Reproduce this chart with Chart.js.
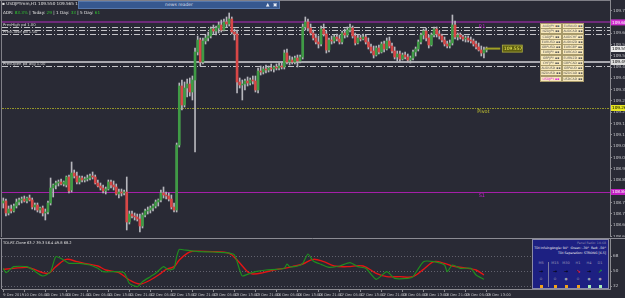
<!DOCTYPE html>
<html>
<head>
<meta charset="utf-8">
<title>USDJPYmm,H1</title>
<script src="https://cdn.jsdelivr.net/npm/chart.js@4.4.1/dist/chart.umd.min.js"></script>
<style>
  html, body { margin: 0; padding: 0; background: #292a35; }
  #wrap { position: relative; width: 625px; height: 298px; overflow: hidden; background: #292a35; font-family: "DejaVu Sans", sans-serif; }
  canvas { position: absolute; left: 0; }
  #main { top: 0; }
  #ind { top: 237px; }
  .txt { position: absolute; white-space: nowrap; font-size: 4.2px; line-height: 6px; color: #e2e2e2; }
  .g { color: #2fc42f; }
  #news { position: absolute; left: 78px; top: 1px; width: 200px; height: 6px; background: #36588f; border: 1px solid #5677aa; color: #d6dbe6; font-size: 4.5px; line-height: 6px; text-align: center; }
  #news .ic { position: absolute; top: 0; font-size: 4.5px; line-height: 6px; color: #e8ecf4; }
  .sym { position: absolute; width: 20px; height: 4px; background: #f7e8bb; border: 1px solid #a89a6a; font-size: 3.2px; line-height: 4px; color: #5a5a5a; text-align: center; overflow: hidden; white-space: nowrap; }
  #tdiPanel { position: absolute; left: 532px; top: 239px; width: 77px; height: 50px; background: #1d2082; border: 1px solid #8a8aa8; box-sizing: border-box; overflow: hidden; }
  #tdiPanel .tp { position: absolute; right: 2px; white-space: nowrap; font-size: 3.2px; line-height: 5px; color: #f0f0f0; }
  #tdiPanel .c { position: absolute; width: 10px; margin-left: -5px; text-align: center; font-size: 3.5px; line-height: 5px; white-space: nowrap; }
  #tdiPanel .sq { position: absolute; width: 3px; height: 3px; margin-left: -1.5px; }
</style>
</head>
<body>
<div id="wrap">
  <canvas id="main" width="625" height="237"></canvas>
  <canvas id="ind" width="625" height="61"></canvas>

  <div class="txt" style="left:2px;top:1px;">&#9642; USDJPYmm,H1 109.550 109.565 109.540 109.555</div>
  <div id="news">news reader<span class="ic" style="left:187px;">&#9650;</span><span class="ic" style="left:194px;">&#9635;</span></div>
  <div class="txt" style="left:3px;top:10px;">ADR: <span class="g">83.3%</span> | Today: <span class="g">29</span> | 1 Day: <span class="g">33</span> | 5 Day: <span class="g">61</span></div>
  <div class="txt" style="left:3px;top:240px;font-size:3.6px;">TDI-RT-Clone 63.7 39.3 56.4 49.8 68.2</div>

  <div id="tdiPanel"></div>
</div>

<script>
// ---------- données ----------
const timeLabels = ['9 Dec 2019', '10 Dec 05:00', '10 Dec 13:00', '10 Dec 21:00', '11 Dec 05:00', '11 Dec 13:00',
  '11 Dec 21:00', '12 Dec 05:00', '12 Dec 13:00', '12 Dec 21:00', '13 Dec 05:00', '13 Dec 13:00',
  '13 Dec 21:00', '16 Dec 05:00', '16 Dec 13:00', '16 Dec 21:00', '17 Dec 05:00', '17 Dec 13:00',
  '17 Dec 21:00', '18 Dec 05:00', '18 Dec 13:00', '18 Dec 21:00', '19 Dec 05:00', '19 Dec 13:00'];
const labelStep = 8;

const priceTicks = [109.747, 109.690, 109.634, 109.577, 109.521, 109.464, 109.408, 109.351, 109.295, 109.238,
  109.182, 109.125, 109.069, 109.012, 108.956, 108.899, 108.843, 108.786, 108.730, 108.673, 108.617];

const openP = [
  108.785,108.795,108.735,108.755,108.745,108.770,108.790,108.800,108.805,108.795,
  108.810,108.800,108.765,108.775,108.750,108.760,108.735,108.740,108.785,108.860,
  108.875,108.885,108.890,108.880,108.875,108.915,108.850,108.935,108.920,108.890,
  108.910,108.900,108.905,108.910,108.920,108.915,108.885,108.870,108.860,108.845,
  108.855,108.890,108.875,108.865,108.830,108.840,108.835,108.840,108.690,108.730,
  108.720,108.715,108.705,108.670,108.725,108.745,108.750,108.760,108.770,108.790,
  108.800,108.835,108.825,108.820,108.805,108.765,108.750,109.075,109.370,109.275,
  109.360,109.380,109.340,109.400,109.540,109.600,109.490,109.595,109.610,109.620,
  109.655,109.645,109.660,109.675,109.650,109.690,109.680,109.705,109.640,109.630,
  109.390,109.375,109.380,109.395,109.385,109.400,109.395,109.350,109.445,109.440,
  109.455,109.450,109.460,109.455,109.465,109.460,109.470,109.465,109.535,109.490,
  109.500,109.490,109.510,109.495,109.515,109.665,109.690,109.660,109.635,109.610,
  109.590,109.580,109.655,109.630,109.550,109.600,109.595,109.615,109.605,109.590,
  109.635,109.625,109.650,109.660,109.620,109.585,109.610,109.605,109.615,109.590,
  109.565,109.545,109.525,109.560,109.540,109.580,109.555,109.595,109.570,109.545,
  109.515,109.530,109.505,109.525,109.515,109.500,109.510,109.540,109.555,109.590,
  109.625,109.645,109.610,109.575,109.625,109.655,109.630,109.620,109.600,109.580,
  109.570,109.585,109.675,109.615,109.625,109.615,109.605,109.610,109.600,109.595,
  109.580,109.565,109.550,109.535,109.550];
const highP = [
  108.810,108.805,108.770,108.775,108.780,108.805,108.810,108.815,108.820,108.815,
  108.825,108.810,108.785,108.785,108.765,108.770,108.755,108.795,108.910,108.880,
  108.895,108.900,108.905,108.895,108.920,108.925,108.990,108.950,108.940,108.920,
  108.920,108.915,108.925,108.930,108.940,108.925,108.900,108.885,108.875,108.865,
  108.900,108.900,108.895,108.880,108.855,108.855,108.850,108.915,108.745,108.745,
  108.735,108.730,108.730,108.735,108.755,108.765,108.770,108.780,108.800,108.805,
  108.850,108.865,108.840,108.835,108.825,108.785,109.085,109.385,109.400,109.390,
  109.405,109.410,109.420,109.560,109.620,109.610,109.610,109.625,109.640,109.665,
  109.675,109.670,109.690,109.700,109.705,109.715,109.735,109.715,109.655,109.650,
  109.410,109.400,109.405,109.415,109.410,109.420,109.420,109.460,109.470,109.465,
  109.475,109.470,109.480,109.470,109.480,109.485,109.490,109.550,109.555,109.520,
  109.515,109.520,109.525,109.525,109.680,109.715,109.705,109.680,109.650,109.630,
  109.620,109.670,109.680,109.645,109.610,109.620,109.625,109.630,109.625,109.645,
  109.655,109.665,109.680,109.670,109.635,109.625,109.625,109.630,109.625,109.610,
  109.580,109.570,109.570,109.575,109.590,109.595,109.610,109.615,109.585,109.565,
  109.545,109.545,109.535,109.540,109.530,109.520,109.550,109.565,109.600,109.635,
  109.655,109.660,109.625,109.635,109.665,109.665,109.645,109.630,109.615,109.595,
  109.600,109.725,109.695,109.635,109.635,109.625,109.620,109.620,109.615,109.605,
  109.595,109.585,109.570,109.565,109.565];
const lowP = [
  108.760,108.720,108.725,108.735,108.740,108.760,108.775,108.785,108.790,108.785,
  108.795,108.755,108.750,108.740,108.735,108.720,108.700,108.730,108.775,108.815,
  108.855,108.870,108.875,108.870,108.865,108.835,108.840,108.910,108.880,108.880,
  108.890,108.890,108.895,108.900,108.905,108.880,108.865,108.850,108.835,108.830,
  108.850,108.860,108.850,108.825,108.810,108.820,108.825,108.650,108.680,108.710,
  108.700,108.695,108.640,108.660,108.715,108.730,108.735,108.745,108.760,108.770,
  108.790,108.810,108.805,108.795,108.755,108.740,108.740,109.065,109.250,109.265,
  109.315,109.320,109.300,109.040,109.525,109.470,109.480,109.580,109.595,109.610,
  109.630,109.625,109.635,109.640,109.645,109.665,109.670,109.630,109.600,109.335,
  109.360,109.300,109.350,109.370,109.375,109.380,109.340,109.335,109.425,109.430,
  109.435,109.440,109.445,109.440,109.450,109.450,109.455,109.455,109.480,109.475,
  109.480,109.480,109.465,109.485,109.505,109.650,109.645,109.625,109.600,109.580,
  109.560,109.570,109.620,109.535,109.540,109.580,109.585,109.595,109.580,109.580,
  109.610,109.615,109.640,109.610,109.575,109.580,109.595,109.600,109.580,109.555,
  109.535,109.510,109.520,109.530,109.535,109.540,109.550,109.560,109.535,109.505,
  109.495,109.490,109.500,109.505,109.490,109.485,109.500,109.520,109.545,109.580,
  109.605,109.595,109.560,109.570,109.615,109.615,109.605,109.590,109.570,109.560,
  109.560,109.575,109.605,109.600,109.605,109.595,109.590,109.590,109.585,109.570,
  109.555,109.545,109.520,109.510,109.540];
const closeP = [
  108.795,108.735,108.755,108.745,108.770,108.790,108.800,108.805,108.795,108.810,
  108.800,108.765,108.775,108.750,108.760,108.735,108.740,108.785,108.860,108.875,
  108.885,108.890,108.880,108.890,108.915,108.845,108.935,108.920,108.890,108.910,
  108.900,108.905,108.910,108.920,108.915,108.885,108.870,108.860,108.845,108.855,
  108.890,108.875,108.865,108.830,108.840,108.835,108.840,108.690,108.730,108.720,
  108.715,108.705,108.670,108.725,108.745,108.750,108.760,108.770,108.790,108.800,
  108.835,108.825,108.820,108.805,108.765,108.750,109.075,109.370,109.275,109.360,
  109.380,109.340,109.400,109.540,109.600,109.490,109.595,109.610,109.620,109.655,
  109.645,109.660,109.675,109.650,109.690,109.680,109.705,109.640,109.630,109.390,
  109.375,109.380,109.395,109.385,109.400,109.395,109.350,109.445,109.440,109.455,
  109.450,109.460,109.455,109.465,109.460,109.470,109.465,109.535,109.490,109.500,
  109.490,109.510,109.495,109.515,109.665,109.690,109.660,109.635,109.610,109.590,
  109.580,109.655,109.630,109.550,109.600,109.595,109.615,109.605,109.590,109.635,
  109.625,109.650,109.660,109.620,109.585,109.610,109.605,109.615,109.590,109.565,
  109.545,109.525,109.560,109.540,109.580,109.555,109.595,109.570,109.545,109.515,
  109.530,109.505,109.525,109.515,109.500,109.510,109.540,109.555,109.590,109.625,
  109.645,109.610,109.575,109.625,109.655,109.630,109.620,109.600,109.580,109.570,
  109.585,109.675,109.615,109.625,109.615,109.605,109.610,109.600,109.595,109.580,
  109.565,109.550,109.535,109.550,109.555];

// TDI (ligne verte = prix, ligne rouge = signal)
const tdiGreenIdx = [0,1,4,9,11,15,18,20,23,25,29,33,36,38,42,46,48,51,53,56,58,61,63,65,66,67,69,71,75,80,
  85,88,90,91,94,96,100,104,107,108,109,112,114,116,118,121,124,128,132,135,138,142,146,149,154,156,160,164,168,169,
  171,174,178,180,183];
const tdiGreen = [53.2,48.0,55.2,55.2,52.0,44.0,49.2,67.2,63.2,59.2,59.2,57.2,53.2,49.2,49.2,48.0,35.2,31.2,37.2,43.2,
  47.2,55.2,51.2,53.2,67.2,76.0,75.2,74.4,73.2,72.8,72.0,69.2,51.2,44.0,47.2,49.2,51.2,52.0,53.2,58.4,
  55.2,56.0,59.2,70.4,62.0,58.0,54.4,56.0,60.0,55.2,53.2,40.0,49.2,41.2,41.2,43.2,61.2,61.2,57.2,49.2,
  57.2,53.2,53.2,45.2,40.0];
const tdiRedIdx = [0,4,9,11,17,20,24,28,32,36,39,44,48,52,56,60,62,65,67,70,72,80,86,89,93,95,99,103,107,110,
  114,118,122,126,131,137,142,146,151,156,160,164,168,171,177,180,183];
const tdiRed = [52.0,53.2,54.4,52.8,47.2,55.2,64.0,61.2,58.4,56.0,51.2,48.0,39.2,34.4,39.2,47.2,52.0,55.2,63.2,71.2,
  73.6,73.2,71.2,63.2,49.2,46.4,48.0,51.2,53.2,55.2,58.4,64.0,61.2,56.0,55.2,56.0,47.2,43.2,43.2,43.2,
  52.0,61.2,59.2,56.0,53.2,51.2,45.2];
const tdiLevels = [32, 50, 68];

// niveaux horizontaux
const levelR1 = 109.688;
const levelPivot = 109.260;
const levelS1 = 108.840;
const dashLevels = [109.665, 109.652, 109.630, 109.470];
const dashNames = ['PrevHigh pd 1.00', '', 'PrevClose pd 1.00', 'PrevOpen pd avg 1.00'];
const greyLevel = 109.490;
const markLevel = 109.557;

const symLeft = ['AUDJPY', 'NZDJPY', 'CADJPY', 'EURUSD', 'GBPUSD', 'EURJPY', 'GBPJPY', 'CHFJPY', 'AUDUSD', 'NZDUSD', 'USDJPY'];
const symRight = ['EURAUD', 'AUDCAD', 'AUDCHF', 'AUDNZD', 'EURGBP', 'EURCAD', 'EURNZD', 'GBPCAD', 'GBPAUD', 'NZDCAD', 'USDCAD'];

const tfNames = ['M5', 'M15', 'M30', 'H1', 'H4', 'D1'];
const tfArrows = ['\u2192', '\u2192', '\u2192', '\u2198', '\u2192', '\u2197'];
const tfArrowColors = ['#000', '#000', '#000', '#e01818', '#000', '#1fa01f'];
const tfDots = ['\u2299', '\u2299', '\u25CF', '\u2299', '\u25CF', '\u25CF'];
const tfBoxColors = ['#f0a018', '#f0a018', '#f0a018', '#f0a018', '#a6efb4', '#a6efb4'];

Chart.defaults.font.family = '"DejaVu Sans", sans-serif';

// ---------- panneau des symboles ----------
symLeft.forEach((s, r) => {
    [[s, 540], [symRight[r], 562]].forEach(([name, left]) => {
        const d = document.createElement('div');
        d.className = 'sym';
        d.style.left = left + 'px';
        d.style.top = (23 + r * 5.27).toFixed(1) + 'px';
        d.textContent = name + ' \u25AA\u25AA';
        if (name === 'USDJPY') d.style.color = '#e020e0';
        document.getElementById('wrap').appendChild(d);
    });
});

// ---------- panneau TDI ----------
const panel = document.getElementById('tdiPanel');
panel.innerHTML =
    '<div class="tp" style="top:1px;color:#8c8cae">Panel Ratio: 10.68</div>' +
    '<div class="tp" style="top:6px">TDI InfuingAngle: 94\u00B0 &nbsp;Green: -30\u00B0 &nbsp;Red: -50\u00B0</div>' +
    '<div class="tp" style="top:11px">TDI Separation: STRONG [6.5]</div>' +
    '<div style="position:absolute;left:15px;top:22px;width:1px;height:25px;background:#7a7aa0"></div>';
const colX = [8, 22, 33, 45, 56, 67];
tfNames.forEach((n, k) => {
    panel.innerHTML +=
        '<div class="c" style="left:' + colX[k] + 'px;top:21px;color:#9a9ab8">' + n + '</div>' +
        '<div class="c" style="left:' + colX[k] + 'px;top:29px;font-weight:bold;font-size:5px;color:' + tfArrowColors[k] + '">' + tfArrows[k] + '</div>' +
        '<div class="c" style="left:' + colX[k] + 'px;top:37px;color:#9a9aaa">' + tfDots[k] + '</div>' +
        '<div class="sq" style="left:' + colX[k] + 'px;top:45px;background:' + tfBoxColors[k] + '"></div>';
});

// ---------- graphique principal (chandeliers) ----------
const idx = openP.map((_, i) => i);
const bodyData = idx.map(i => ({ x: i, y: [openP[i], closeP[i]] }));
const wickData = idx.map(i => ({ x: i, y: [lowP[i], highP[i]] }));
const bodyColors = idx.map(i => closeP[i] >= openP[i] ? '#3f9b45' : '#d84747');

const mainDecor = {
    id: 'mainDecor',
    beforeDatasetsDraw(chart) {
        const { ctx, chartArea: a, scales: { y } } = chart;
        const hline = (price, color, w, dash) => {
            const py = Math.round(y.getPixelForValue(price)) + (w % 2 ? 0.5 : 0);
            ctx.beginPath();
            ctx.strokeStyle = color;
            ctx.lineWidth = w;
            ctx.setLineDash(dash || []);
            ctx.moveTo(a.left, py);
            ctx.lineTo(a.right, py);
            ctx.stroke();
        };
        ctx.save();
        hline(levelR1, '#6e2a7a', 2);
        dashLevels.forEach(p => hline(p, '#c4c4c8', 1, [6, 2, 1, 2]));
        hline(greyLevel, '#a9a9b0', 2);
        hline(levelPivot, '#94942a', 1, [2, 1, 1, 1]);
        hline(levelS1, '#a41fa8', 1);
        ctx.restore();
    },
    afterDatasetsDraw(chart) {
        const { ctx, scales: { x, y } } = chart;
        ctx.save();
        ctx.font = '5px "DejaVu Sans"';
        ctx.textBaseline = 'top';
        ctx.fillStyle = '#c020c8';
        ctx.fillText('R1', x.getPixelForValue(181), y.getPixelForValue(levelR1) + 1.5);
        ctx.fillText('S1', x.getPixelForValue(181), y.getPixelForValue(levelS1) + 1);
        ctx.fillStyle = '#c8c830';
        ctx.fillText('Pivot', x.getPixelForValue(180.5), y.getPixelForValue(levelPivot) + 1);
        // étiquettes à gauche des lignes pointillées
        ctx.font = '3.8px "DejaVu Sans"';
        ctx.textBaseline = 'bottom';
        ctx.fillStyle = '#d8d8d8';
        dashLevels.forEach((p, k) => {
            if (dashNames[k]) ctx.fillText(dashNames[k], 3, y.getPixelForValue(p) - 0.5);
        });
        // marque jaune du prix courant
        const my = y.getPixelForValue(markLevel);
        ctx.strokeStyle = '#a0a024';
        ctx.lineWidth = 2;
        ctx.beginPath();
        ctx.moveTo(x.getPixelForValue(183.5), my);
        ctx.lineTo(x.getPixelForValue(189.2), my);
        ctx.stroke();
        const bx = x.getPixelForValue(190), bw = x.getPixelForValue(197.6) - bx;
        ctx.fillStyle = '#5f5f10';
        ctx.fillRect(bx, my - 3.5, bw, 7);
        ctx.strokeStyle = '#b0b040';
        ctx.lineWidth = 0.8;
        ctx.strokeRect(bx, my - 3.5, bw, 7);
        ctx.fillStyle = '#f2f25a';
        ctx.font = '4.5px "DejaVu Sans"';
        ctx.textBaseline = 'middle';
        ctx.fillText(markLevel.toFixed(3), bx + 1.5, my + 0.3);
        ctx.restore();
    },
    afterDraw(chart) {
        const { ctx, chartArea: a, scales: { y } } = chart;
        ctx.save();
        // cadre
        ctx.strokeStyle = '#808088';
        ctx.lineWidth = 1;
        ctx.beginPath();
        ctx.moveTo(1.5, 0); ctx.lineTo(1.5, a.bottom);
        ctx.moveTo(0, 0.5); ctx.lineTo(a.right, 0.5);
        ctx.stroke();
        // étiquettes de prix sur l'axe
        const tag = (price, bg, fg) => {
            const py = y.getPixelForValue(price);
            ctx.fillStyle = bg;
            ctx.fillRect(a.right + 1, py - 3, 15, 6);
            ctx.fillStyle = fg;
            ctx.font = '4.2px "DejaVu Sans"';
            ctx.textBaseline = 'middle';
            ctx.fillText(price.toFixed(3), a.right + 2, py + 0.3);
        };
        tag(levelR1, '#cf2fcf', '#ffffff');
        tag(closeP[closeP.length - 1], '#ececec', '#000000');
        tag(greyLevel, '#dcdcdc', '#000000');
        tag(levelPivot, '#e6e620', '#000000');
        tag(levelS1, '#c21fc2', '#ffffff');
        ctx.restore();
    }
};

new Chart(document.getElementById('main').getContext('2d'), {
    type: 'bar',
    data: {
        datasets: [
            { data: wickData, backgroundColor: '#b6b6bc', barThickness: 1, grouped: false, order: 2 },
            { data: bodyData, backgroundColor: bodyColors, barThickness: 2, minBarLength: 1, grouped: false, order: 1 }
        ]
    },
    options: {
        responsive: false,
        animation: false,
        events: [],
        layout: { padding: { left: 2, top: 0, right: 0, bottom: 0 } },
        plugins: { legend: { display: false }, tooltip: { enabled: false } },
        scales: {
            x: { type: 'linear', min: -0.5, max: 231, offset: false, display: false },
            y: {
                position: 'right',
                min: 108.615,
                max: 109.8,
                afterFit: s => { s.width = 15; s.paddingTop = 0; s.paddingBottom = 0; },
                afterBuildTicks: s => { s.ticks = priceTicks.map(v => ({ value: v })); },
                ticks: { font: { size: 4.2 }, color: '#c4c4c8', padding: 1, callback: v => v.toFixed(3) },
                grid: { drawOnChartArea: false, tickLength: 2, color: '#8a8a90' },
                border: { color: '#8a8a90' }
            }
        }
    },
    plugins: [mainDecor]
});

// ---------- indicateur TDI ----------
const indDecor = {
    id: 'indDecor',
    beforeDatasetsDraw(chart) {
        const { ctx, chartArea: a, scales: { y } } = chart;
        ctx.save();
        ctx.strokeStyle = '#62626e';
        ctx.lineWidth = 1;
        ctx.setLineDash([1, 2]);
        tdiLevels.forEach(v => {
            const py = Math.round(y.getPixelForValue(v)) + 0.5;
            ctx.beginPath();
            ctx.moveTo(a.left, py);
            ctx.lineTo(a.right, py);
            ctx.stroke();
        });
        ctx.restore();
    },
    afterDraw(chart) {
        const { ctx, chartArea: a } = chart;
        ctx.save();
        ctx.strokeStyle = '#8c8c94';
        ctx.lineWidth = 1;
        ctx.beginPath();
        ctx.moveTo(0, 1.5); ctx.lineTo(625, 1.5);
        ctx.moveTo(1.5, 1.5); ctx.lineTo(1.5, a.bottom);
        ctx.stroke();
        ctx.restore();
    }
};

new Chart(document.getElementById('ind').getContext('2d'), {
    type: 'line',
    data: {
        datasets: [
            {
                data: tdiGreenIdx.map((i, k) => ({ x: i, y: tdiGreen[k] })),
                borderColor: '#1f8e1f', borderWidth: 1.2, pointRadius: 0, tension: 0.2
            },
            {
                data: tdiRedIdx.map((i, k) => ({ x: i, y: tdiRed[k] })),
                borderColor: '#e41414', borderWidth: 1.4, pointRadius: 0, tension: 0.35
            }
        ]
    },
    options: {
        responsive: false,
        animation: false,
        events: [],
        layout: { padding: { left: 2, top: 2, right: 0, bottom: 0 } },
        plugins: { legend: { display: false }, tooltip: { enabled: false } },
        scales: {
            x: {
                type: 'linear', min: -0.5, max: 231, offset: false,
                afterFit: s => { s.height = 9; s.paddingLeft = 0; s.paddingRight = 0; },
                afterBuildTicks: s => { s.ticks = timeLabels.map((_, k) => ({ value: k * labelStep })); },
                ticks: {
                    font: { size: 3.6 }, color: '#c4c4c8', padding: 1, align: 'start',
                    autoSkip: false, maxRotation: 0, minRotation: 0,
                    callback: (v, k) => timeLabels[k]
                },
                grid: { drawOnChartArea: false, tickLength: 3, color: '#8a8a90' },
                border: { color: '#8a8a90' }
            },
            y: {
                position: 'right',
                min: 28.4,
                max: 88.4,
                afterFit: s => { s.width = 15; s.paddingTop = 0; s.paddingBottom = 0; },
                afterBuildTicks: s => { s.ticks = tdiLevels.map(v => ({ value: v })); },
                ticks: { font: { size: 4.2 }, color: '#c4c4c8', padding: 1 },
                grid: { drawOnChartArea: false, tickLength: 2, color: '#8a8a90' },
                border: { color: '#8a8a90' }
            }
        }
    },
    plugins: [indDecor]
});
</script>
</body>
</html>
